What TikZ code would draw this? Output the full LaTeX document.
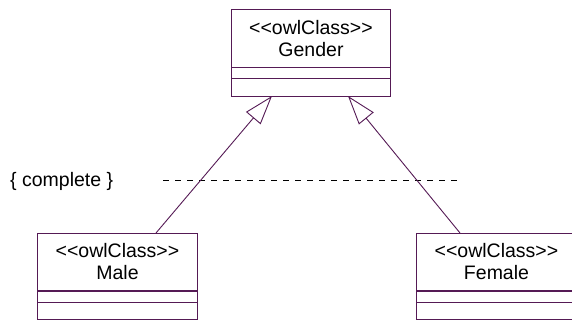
\documentclass[tikz,border=0pt]{standalone}
\usepackage{fontspec}
\setmainfont{Liberation Sans}
\usetikzlibrary{arrows.meta}
\definecolor{umlline}{RGB}{85,26,85}
\begin{document}
\begin{tikzpicture}[x=1pt,y=-1pt,
  boxline/.style={draw=umlline, line width=1pt},
  namebox/.style={boxline, rectangle, inner sep=0pt, align=center,
    font=\fontsize{19.5}{22}\selectfont, anchor=north west},
  gen/.style={draw=umlline, line width=0.9pt,
    -{Triangle[open,length=29pt,width=19pt]}},
  sepline/.style={draw=black, line width=1pt, dash pattern=on 6pt off 6pt},
  label/.style={inner sep=0pt, font=\fontsize{19.5}{22}\selectfont, anchor=base west}]
\useasboundingbox (0,0) rectangle (572,320);
\clip (0,0) rectangle (572,320);
% classes
\node[namebox, minimum width=159pt, minimum height=58pt, text depth=1pt] (gender) at (231,9) {<{}<owlClass>{}>\\Gender};
\draw[boxline] (gender.south west) rectangle ++(159,11);
\draw[boxline] (gender.south west) ++(0,11) rectangle ++(159,18);
\node[namebox, minimum width=160pt, minimum height=57pt, text depth=1pt] (male) at (37,233) {<{}<owlClass>{}>\\Male};
\draw[boxline] (male.south west) rectangle ++(160,11);
\draw[boxline] (male.south west) ++(0,11) rectangle ++(160,17.5);
\node[namebox, minimum width=160pt, minimum height=57pt, text depth=1pt] (female) at (416,233) {<{}<owlClass>{}>\\Female};
\draw[boxline] (female.south west) rectangle ++(160,11);
\draw[boxline] (female.south west) ++(0,11) rectangle ++(160,17.5);
% connection points
\coordinate (gl) at (272,96);
\coordinate (gr) at (348,96);
\coordinate (mt) at (156,233);
\coordinate (ft) at (460,233);
\coordinate (d1) at (163,181);
\coordinate (d2) at (460,181);
% generalization set
\draw[sepline] (d1) -- (d2);
\node[label] (complete) at (10,187) {\{ complete \}};
% generalizations
\draw[gen] (mt) -- (gl);
\draw[gen] (ft) -- (gr);
\end{tikzpicture}
\end{document}
